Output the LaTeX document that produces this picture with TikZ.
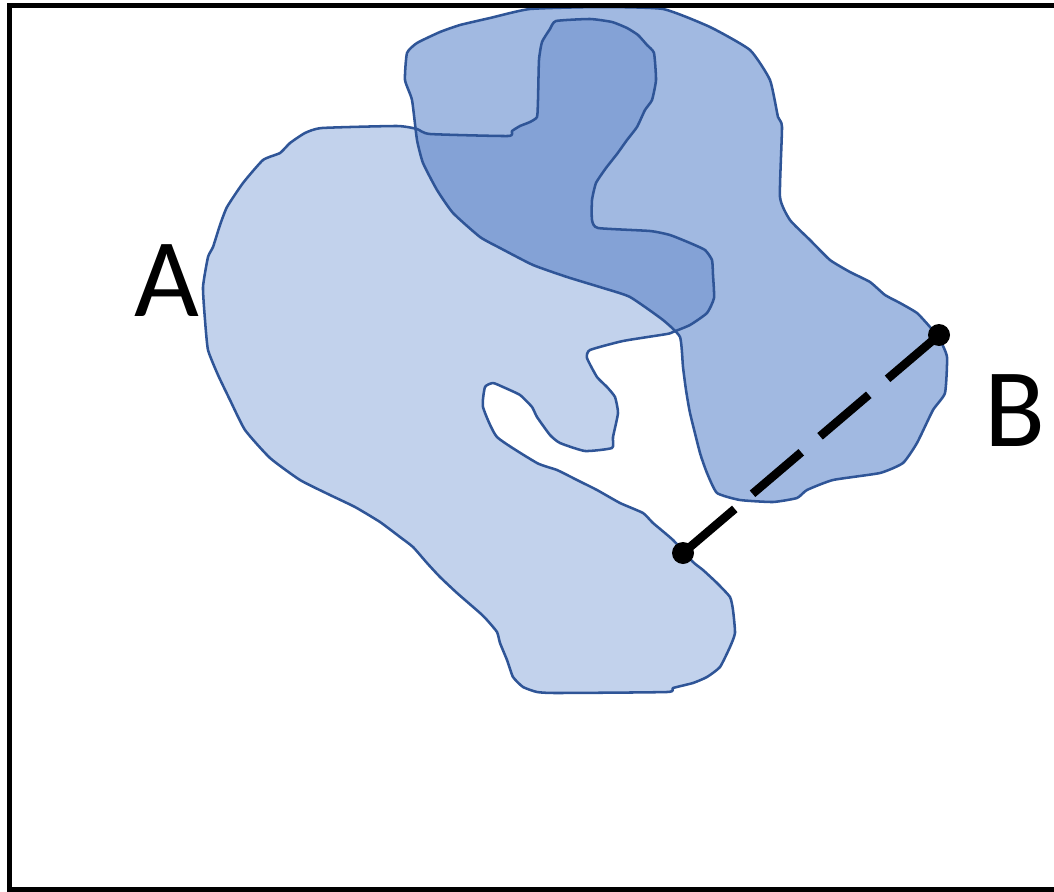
\documentclass[tikz,border=0pt]{standalone}
\usepackage{fontspec}
\setmainfont{Carlito}
\definecolor{fillA}{HTML}{C2D2EC}
\definecolor{fillB}{HTML}{A1B9E1}
\definecolor{fillAB}{HTML}{84A2D6}
\definecolor{edge}{HTML}{2F5597}
\tikzset{
  outline/.style={draw=edge,line width=1.9pt,line join=round},
  dot/.style={circle,fill=black,inner sep=0pt,minimum size=16.5pt},
  lbl/.style={inner sep=0pt,font=\fontsize{84}{84}\selectfont},
}
\begin{document}
\begin{tikzpicture}[x=0.75pt,y=-0.75pt]
\useasboundingbox (0,0) rectangle (1054,892);
\path[save path=\pathA] plot[smooth cycle,tension=0.3] coordinates {
(322,128) (397,126) (417,129) (430,134) (508,136) (512,131) (520,126) (530,122) (537,117) (538,100) (539,60) (542,42) (550,29) (556,21) (590,19) (612,22) (627,28) (638,35) (647,45) (654,53) (656,80) (652,100) (645,110) (637,127) (627,140) (617,154) (606,168) (596,183) (592,200) (592,220) (598,228) (650,231) (670,235) (690,243) (705,250) (712,260) (713,275) (714,298) (707,313) (690,325) (673,332) (667,334) (623,341) (590,350) (587,358) (597,377) (607,387) (615,397) (618,413) (613,437) (612,448) (585,451) (560,443) (550,435) (537,417) (532,407) (520,395) (503,387) (493,383) (485,387) (483,407) (497,437) (537,463) (557,470) (577,480) (597,490) (620,503) (643,513) (653,523) (673,540) (693,562) (703,570) (717,583) (730,597) (733,610) (735,633) (730,647) (720,667) (707,677) (693,683) (673,688) (667,692) (557,693) (537,692) (523,687) (513,677) (507,660) (500,643) (497,632) (487,620) (480,613) (457,593) (440,577) (427,563) (413,547) (400,537) (380,522) (355,507) (330,495) (300,480) (270,458) (245,430) (230,400) (218,375) (208,350) (205,320) (203,287) (208,257) (213,247) (220,225) (227,207) (243,183) (263,160) (280,153) (290,143) (305,133)};
\path[save path=\pathB] plot[smooth cycle,tension=0.3] coordinates {
(407,53) (405,80) (412,100) (417,140) (423,163) (437,190) (453,213) (480,237) (500,248) (533,265) (567,277) (603,288) (630,297) (663,320) (680,337) (683,367) (686,390) (690,413) (700,453) (707,473) (717,493) (740,500) (773,502) (797,498) (807,490) (833,480) (880,473) (903,463) (917,443) (933,410) (945,393) (947,357) (940,340) (930,327) (917,313) (900,303) (885,295) (870,282) (850,272) (830,260) (810,240) (790,220) (780,197) (782,127) (778,117) (770,80) (750,50) (710,27) (663,9) (600,7) (530,9) (490,18) (460,25) (440,32) (417,43)};
\fill[fillA,use path=\pathA];
\fill[fillB,use path=\pathB];
\begin{scope}
\clip[use path=\pathA];
\fill[fillAB,use path=\pathB];
\end{scope}
\draw[outline,use path=\pathA];
\draw[outline,use path=\pathB];
\draw[black,line width=3.75pt] (1060,5.5) -- (9.5,5.5) -- (9.5,889) -- (1060,889);
\node[lbl] (la) at (166.5,280.5) {A};
\node[lbl] (lb) at (1015,410.5) {B};
\node[dot] (p) at (683,553) {};
\node[dot] (q) at (939,335) {};
\draw[line width=6.4pt,dash pattern=on 51pt off 17.5pt on 48pt off 18.5pt on 48pt off 18.5pt on 60pt] (p.center) -- (q.center);
\end{tikzpicture}
\end{document}
